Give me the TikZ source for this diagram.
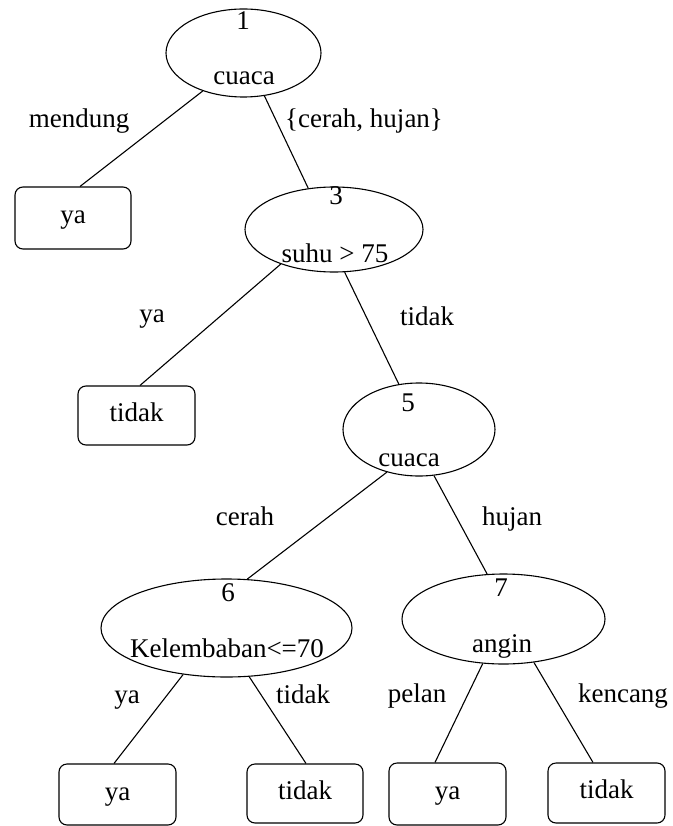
\documentclass[tikz,border=0pt]{standalone}
\usepackage{fontspec}
\setmainfont{Liberation Serif}
\usetikzlibrary{shapes.geometric}

\tikzset{
  test/.style={ellipse, draw, inner sep=0pt},
  leaf/.style={rectangle, draw, rounded corners=8pt, inner sep=0pt, minimum width=117, minimum height=61,
    text height=13pt, text depth=2pt},
  txt/.style={anchor=base}
}

\begin{document}
\begin{tikzpicture}[x=1pt, y=-1pt, line width=1.1pt, every node/.style={font=\fontsize{27}{32}\selectfont}]
\useasboundingbox (0,0) rectangle (672,826);

% test nodes
\node[test, minimum width=155, minimum height=88] (cuaca1) at (243.5,53) {};
\node[test, minimum width=178, minimum height=85] (suhu3) at (334,229.5) {};
\node[test, minimum width=152, minimum height=93] (cuaca5) at (419,429.5) {};
\node[test, minimum width=251, minimum height=98] (klb6) at (226.5,628) {};
\node[test, minimum width=203, minimum height=90] (angin7) at (503.5,619) {};

\node[txt] (id1) at (243,30) {1};
\node[txt] (at1) at (244,85) {cuaca};
\node[txt] (id3) at (336,205) {3};
\node[txt] (at3) at (335,262) {suhu > 75};
\node[txt] (id5) at (408,411) {5};
\node[txt] (at5) at (409,466) {cuaca};
\node[txt] (id6) at (228,601) {6};
\node[txt] (at6) at (227,657) {Kelembaban<=70};
\node[txt] (id7) at (501,596) {7};
\node[txt] (at7) at (502,652) {angin};

% leaves
\node[leaf, minimum width=116, minimum height=62] (ya1) at (73,218) {ya};
\node[leaf, minimum height=59] (tidak1) at (136.5,415.5) {tidak};
\node[leaf] (ya2) at (117.5,794.5) {ya};
\node[leaf, minimum width=116, minimum height=59] (tidak2) at (305,793.5) {tidak};
\node[leaf, minimum height=62] (ya3) at (447.5,794) {ya};
\node[leaf, minimum height=60] (tidak3) at (606.5,793) {tidak};

% branches
\draw (cuaca1.223) -- ([xshift=7pt]ya1.north);
\draw (cuaca1.296) -- (suhu3.122);
\draw (suhu3.213) -- ([xshift=3.5pt]tidak1.north);
\draw (suhu3.284) -- (cuaca5.114);
\draw (cuaca5.233) -- (klb6.67);
\draw (cuaca5.288) -- (angin7.110);
\draw (klb6.227) -- ([xshift=-3.5pt]ya2.north);
\draw (klb6.295) -- ([xshift=1pt]tidak2.north);
\draw (angin7.245) -- ([xshift=-12.5pt]ya3.north);
\draw (angin7.305) -- ([xshift=-13.5pt]tidak3.north);

% branch labels
\foreach \x/\y/\t [count=\i] in {79/128/mendung, 364/128/{\{cerah, hujan\}}, 152/322/ya, 427/325/tidak,
    245/525/cerah, 512/525/hujan, 127/703/ya, 303/703/tidak, 417/702/pelan, 623/702/kencang}
	\node[txt] (lbl\i) at (\x,\y) {\t};
\end{tikzpicture}
\end{document}
